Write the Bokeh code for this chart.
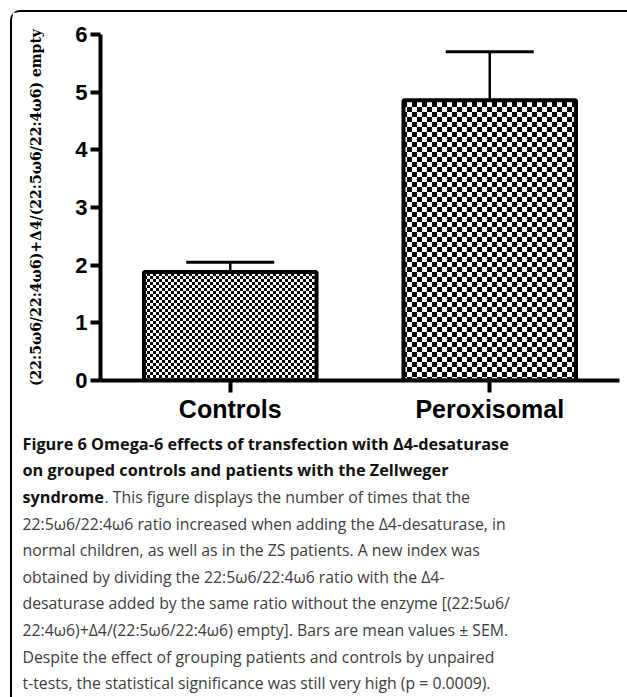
import zlib, struct, base64
from bokeh.plotting import figure
from bokeh.layouts import column, row
from bokeh.models import (ColumnDataSource, FactorRange, FixedTicker, Whisker, TeeHead,
                          Label, ImageURLTexture, Range1d)
from bokeh.embed import file_html
from bokeh.resources import INLINE

# ---------------- data ----------------
categories = ["Controls", "Peroxisomal"]
means = [1.88, 4.86]
sems = [0.17, 0.84]
y_ticks = [0, 1, 2, 3, 4, 5, 6]
y_label = "(22:5\u03c96/22:4\u03c96)+\u03944/(22:5\u03c96/22:4\u03c96) empty"

caption_bold = [
    "Figure 6 Omega-6 effects of transfection with \u03944-desaturase",
    "on grouped controls and patients with the Zellweger",
    "syndrome",
]
caption_rest = [
    ". This figure displays the number of times that the",
    "22:5\u03c96/22:4\u03c96 ratio increased when adding the \u03944-desaturase, in",
    "normal children, as well as in the ZS patients. A new index was",
    "obtained by dividing the 22:5\u03c96/22:4\u03c96 ratio with the \u03944-",
    "desaturase added by the same ratio without the enzyme [(22:5\u03c96/",
    "22:4\u03c96)+\u03944/(22:5\u03c96/22:4\u03c96) empty]. Bars are mean values \u00b1 SEM.",
    "Despite the effect of grouping patients and controls by unpaired",
    "t-tests, the statistical significance was still very high (p = 0.0009).",
]
checker_cells = [3, 5]


def checker_url(cell):
    n = 2 * cell
    raw = b""
    for yy in range(n):
        raw += bytes([0]) + bytes(0 if ((xx // cell) + (yy // cell)) % 2 == 0 else 255 for xx in range(n))

    def chunk(t, d):
        return struct.pack(">I", len(d)) + t + d + struct.pack(">I", zlib.crc32(t + d) & 0xffffffff)

    png = (b"\x89PNG\r\n\x1a\n" + chunk(b"IHDR", struct.pack(">IIBBBBB", n, n, 8, 0, 0, 0, 0))
           + chunk(b"IDAT", zlib.compress(raw)) + chunk(b"IEND", b""))
    return "data:image/png;base64," + base64.b64encode(png).decode()


W, H = 627, 697
OFF = 12            # 10px margin + 2px border of the article box
CHART_BOTTOM = 430  # page y where caption panel starts
FL, FR, FT, FB = 100, 619, 34, 380   # chart frame edges (page pixels)
CW = W - OFF

# --- chart ---
p = figure(width=CW, height=CHART_BOTTOM - OFF, x_range=FactorRange(*categories),
           y_range=(0, y_ticks[-1]), output_backend="svg", toolbar_location=None, title=None,
           min_border_left=FL - OFF, min_border_right=W - FR, min_border_top=FT - OFF,
           min_border_bottom=CHART_BOTTOM - FB)
p.outline_line_color = None
p.xgrid.grid_line_color = None
p.ygrid.grid_line_color = None
p.background_fill_color = "white"
p.border_fill_color = "white"

for i, cat in enumerate(categories):
    src = ColumnDataSource(dict(cat=[cat], mean=[means[i]], upper=[means[i] + sems[i]], ck=["ck"]))
    p.vbar(x="cat", top="mean", bottom=0, width=0.665, source=src,
           fill_color="white", line_color="black", line_width=4,
           hatch_pattern="ck", hatch_extra={"ck": ImageURLTexture(url=checker_url(checker_cells[i]))})
    w = Whisker(base="cat", lower="mean", upper="upper", source=src, dimension="height",
                line_width=2.5, line_color="black",
                upper_head=TeeHead(size=88, line_width=3, line_color="black"), lower_head=None)
    p.add_layout(w)

yax = p.yaxis[0]
yax.ticker = FixedTicker(ticks=y_ticks)
yax.axis_line_width = 4
yax.major_tick_line_width = 4
yax.major_tick_out = 10
yax.major_tick_in = 0
yax.minor_tick_line_color = None
yax.major_label_text_font = "Liberation Sans"
yax.major_label_text_font_style = "bold"
yax.major_label_text_font_size = "22px"
yax.major_label_text_color = "black"
yax.major_label_standoff = 3
yax.axis_label = y_label
yax.axis_label_text_font = "DejaVu Serif"
yax.axis_label_text_font_style = "bold"
yax.axis_label_text_font_size = "14px"
yax.axis_label_text_color = "black"
yax.axis_label_standoff = 28

xax = p.xaxis[0]
xax.axis_line_width = 4
xax.major_tick_line_width = 4
xax.major_tick_out = 12
xax.major_tick_in = 0
xax.major_label_text_font = "Liberation Sans"
xax.major_label_text_font_style = "bold"
xax.major_label_text_font_size = "25px"
xax.major_label_text_color = "black"
xax.major_label_standoff = 2

# --- caption panel (page-pixel coordinates) ---
cap = figure(width=CW, height=H - CHART_BOTTOM, x_range=Range1d(OFF, W),
             y_range=Range1d(H, CHART_BOTTOM), x_axis_type=None, y_axis_type=None,
             output_backend="svg", toolbar_location=None, title=None,
             min_border=0, min_border_left=0, min_border_right=0, min_border_top=0, min_border_bottom=0)
cap.outline_line_color = None
cap.grid.visible = False
cap.background_fill_color = "white"
cap.border_fill_color = "white"

x0 = 22
x1 = 104
y_first = 443.3
dy = 26.6
for k, t in enumerate(caption_bold):
    cap.add_layout(Label(x=x0, y=y_first + k * dy, text=t,
                         text_font="Open Sans", text_font_style="bold", text_font_size="16.3px",
                         text_color="#111111", text_baseline="middle", text_align="left"))
for k, t in enumerate(caption_rest):
    xx = x1 if k == 0 else x0
    cap.add_layout(Label(x=xx, y=y_first + (k + 2) * dy, text=t,
                         text_font="Open Sans", text_font_size="15.8px",
                         text_color="#3c3c3c", text_baseline="middle", text_align="left"))

layout = column(row(p, spacing=0), cap, spacing=0, margin=(10, 0, 0, 10),
                styles={"border-top": "2px solid black", "border-left": "2px solid black",
                        "border-top-left-radius": "10px"})
open("out.html", "w").write(file_html(layout, INLINE))
